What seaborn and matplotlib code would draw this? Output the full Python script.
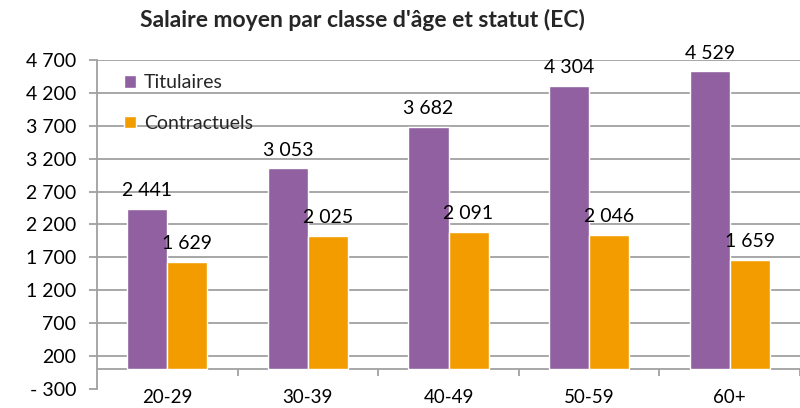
import matplotlib
matplotlib.use("Agg")
import matplotlib.pyplot as plt
from matplotlib.ticker import FuncFormatter
from matplotlib.patches import Patch
import seaborn as sns
import pandas as pd

# Mean salary by age bracket and status
age_groups = ["20-29", "30-39", "40-49", "50-59", "60+"]
titulaires = [2441, 3053, 3682, 4304, 4529]
contractuels = [1629, 2025, 2091, 2046, 1659]
statuts = ["Titulaires", "Contractuels"]
y_ticks = [-300, 200, 700, 1200, 1700, 2200, 2700, 3200, 3700, 4200, 4700]

purple = "#9060A0"
orange = "#F39C00"
grid_grey = "#A0A0A0"

df = pd.DataFrame({
    "age": age_groups * 2,
    "statut": [statuts[0]] * len(age_groups) + [statuts[1]] * len(age_groups),
    "salaire": titulaires + contractuels,
})

sns.set_theme(style="white")
plt.rcParams["font.family"] = ["Lato", "DejaVu Sans"]

fig = plt.figure(figsize=(8, 4.08), dpi=100)
ax = fig.add_axes([97 / 800, 19 / 408, 703 / 800, 329 / 408])

sns.barplot(data=df, x="age", y="salaire", hue="statut", order=age_groups,
            hue_order=statuts, palette=[purple, orange], width=0.57,
            saturation=1, errorbar=None, ax=ax, legend=False, zorder=3)

ax.set_xlim(-0.5, len(age_groups) - 0.5)
ax.set_ylim(y_ticks[0], y_ticks[-1])
ax.set_yticks(y_ticks)


def fmt(v, pos=None):
    v = int(round(v))
    s = f"{abs(v):,}".replace(",", " ")
    return f"- {s}" if v < 0 else s


ax.yaxis.set_major_formatter(FuncFormatter(fmt))
ax.grid(axis="y", color=grid_grey, linewidth=1.3, zorder=0)
ax.set_axisbelow(True)
ax.get_ygridlines()[0].set_visible(False)

for side in ["top", "right", "bottom"]:
    ax.spines[side].set_visible(False)
ax.spines["left"].set_color(grid_grey)
ax.spines["left"].set_linewidth(1.3)

ax.tick_params(axis="y", length=6, width=1.3, color=grid_grey, labelsize=14,
               labelcolor="black", left=True, pad=9)
ax.tick_params(axis="x", length=0, labelsize=13.5, labelcolor="black", pad=0)
ax.set_xlabel("")
ax.set_ylabel("")

# category axis at zero with boundary tick marks
ax.axhline(0, color=grid_grey, linewidth=1.3, zorder=2)
bounds = [i + 0.5 for i in range(len(age_groups))]
ax.vlines(bounds, -100, 0, color=grid_grey, linewidth=1.3, zorder=2, clip_on=False)

# value labels above bars
for container in ax.containers:
    ax.bar_label(container, labels=[fmt(b.get_height()) for b in container],
                 padding=7, fontsize=14, color="black")

handles = [Patch(facecolor=purple, label=statuts[0]),
           Patch(facecolor=orange, label=statuts[1])]
ax.legend(handles=handles, loc="upper left", bbox_to_anchor=(0.028, 0.98),
          frameon=False, fontsize=14, handlelength=0.6, handleheight=0.6,
          handletextpad=0.4, labelspacing=1.2, borderaxespad=0)

fig.text(362 / 800, 1 - 20 / 408, "Salaire moyen par classe d'âge et statut (EC)",
         ha="center", va="center", fontsize=16.5, fontweight="bold")

fig.savefig("out.png", dpi=100)
